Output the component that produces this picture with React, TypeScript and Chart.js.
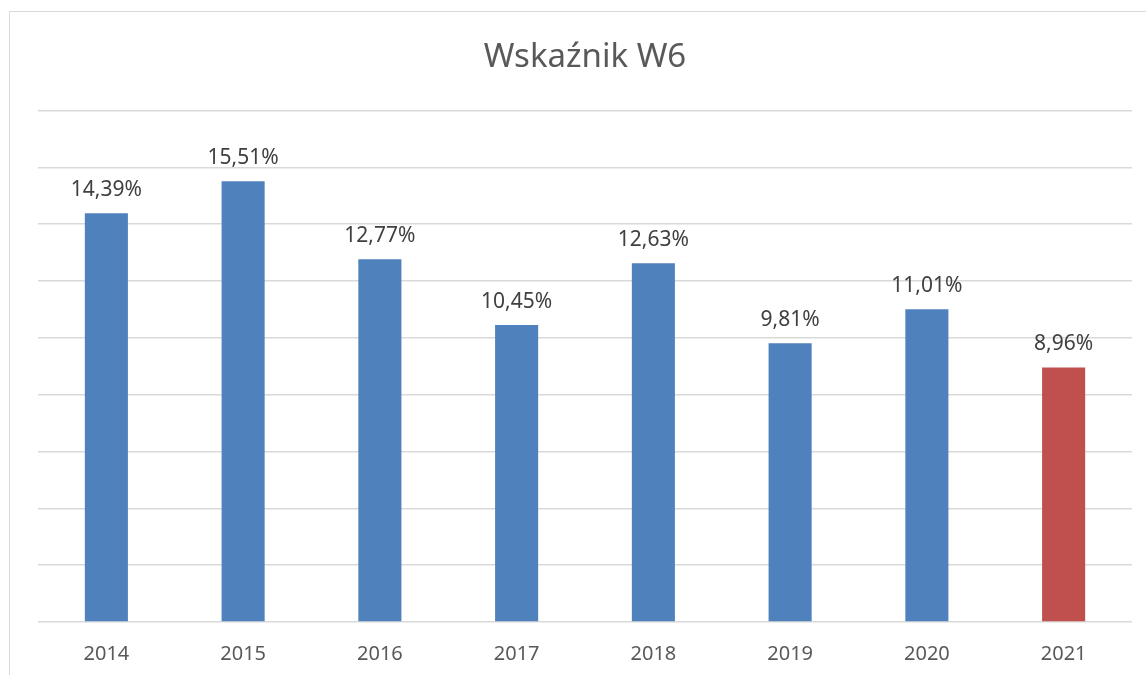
import React, { useEffect, useRef } from "react";
import { Chart, registerables } from "chart.js";

Chart.register(...registerables);

const categories = ["2014", "2015", "2016", "2017", "2018", "2019", "2020", "2021"];
const values = [14.39, 15.51, 12.77, 10.45, 12.63, 9.81, 11.01, 8.96];
const barColors = ["#4f81bd", "#4f81bd", "#4f81bd", "#4f81bd", "#4f81bd", "#4f81bd", "#4f81bd", "#c0504d"];
const titleText = "Wskaźnik W6";

const FONT = "'Noto Sans', 'Open Sans', sans-serif";
const CANVAS_H = 678;

const framePlugin = {
  id: "frame",
  beforeDraw(chart: any) {
    const ctx = chart.ctx;
    ctx.save();
    ctx.fillStyle = "#ffffff";
    ctx.fillRect(0, 0, chart.width, chart.height);
    ctx.strokeStyle = "#d9d9d9";
    ctx.lineWidth = 1;
    ctx.beginPath();
    ctx.moveTo(9.5, chart.height);
    ctx.lineTo(9.5, 11.5);
    ctx.lineTo(chart.width, 11.5);
    ctx.stroke();
    ctx.restore();
  },
};

const labelPlugin = {
  id: "barLabels",
  afterDatasetsDraw(chart: any) {
    const ctx = chart.ctx;
    const meta = chart.getDatasetMeta(0);
    ctx.save();
    ctx.fillStyle = "#404040";
    ctx.font = `21px ${FONT}`;
    ctx.textAlign = "center";
    ctx.textBaseline = "alphabetic";
    meta.data.forEach((bar: any, i: number) => {
      const txt = values[i].toFixed(2).replace(".", ",") + "%";
      ctx.fillText(txt, bar.x, bar.y - 17);
    });
    ctx.restore();
  },
};

export default function App() {
  const ref = useRef<HTMLCanvasElement | null>(null);
  useEffect(() => {
    if (!ref.current) return;
    const chart = new Chart(ref.current, {
      type: "bar",
      data: {
        labels: categories,
        datasets: [
          {
            data: values,
            backgroundColor: barColors,
            categoryPercentage: 1,
            barPercentage: 0.315,
          },
        ],
      },
      options: {
        animation: false,
        responsive: false,
        maintainAspectRatio: false,
        layout: { padding: { left: 38, right: 14, top: 0, bottom: 0 } },
        plugins: {
          legend: { display: false },
          tooltip: { enabled: false },
          title: {
            display: true,
            text: titleText,
            color: "#595959",
            font: { family: FONT, size: 33, weight: "normal" },
            padding: { top: 38, bottom: 33 },
          },
        },
        scales: {
          x: {
            grid: { display: false },
            border: { display: false },
            ticks: {
              color: "#595959",
              font: { family: FONT, size: 20 },
              padding: 12,
            },
          },
          y: {
            min: 0,
            max: 18,
            ticks: { display: false, stepSize: 2 },
            grid: { color: "#d9d9d9", lineWidth: 1.5, drawTicks: false },
            border: { display: false },
          },
        },
      },
      plugins: [framePlugin, labelPlugin],
    });
    return () => chart.destroy();
  }, []);
  return (
    <div style={{ position: "absolute", left: 0, top: 0, width: 1146, height: 675, overflow: "hidden" }}>
      <canvas ref={ref} width={1146} height={CANVAS_H} style={{ display: "block" }} />
    </div>
  );
}
